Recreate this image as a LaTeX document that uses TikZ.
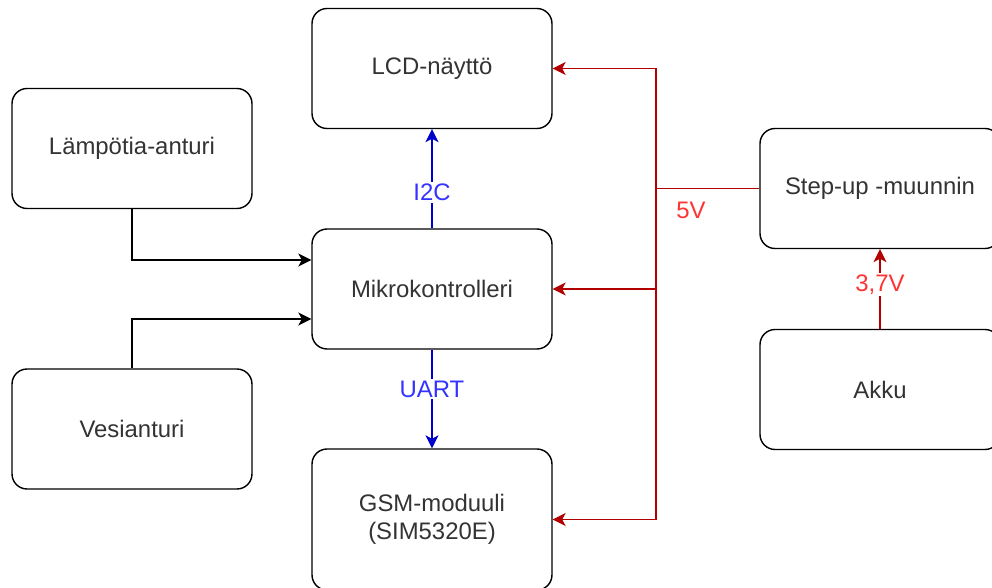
\documentclass[tikz,border=0pt]{standalone}
\usepackage{fontspec}
\setmainfont{Liberation Sans}
\usepackage{tikz}
\usetikzlibrary{arrows.meta,positioning,calc}
\definecolor{txt}{HTML}{333333}
\definecolor{pwrline}{HTML}{B20000}
\definecolor{pwrtxt}{HTML}{FF3333}
\definecolor{busline}{HTML}{0000CC}
\definecolor{bustxt}{HTML}{3333FF}

\begin{document}
\begin{tikzpicture}[x=0.02cm, y=-0.02cm,
    every node/.style={font=\fontsize{13.6}{16}\selectfont, text=txt},
    block/.style={draw, line width=0.8pt, rounded corners=0.3cm, minimum width=4.8cm, minimum height=2.4cm, align=center},
    sig/.style={line width=0.8pt, -{Stealth[length=0.26cm, width=0.26cm, inset=0.07cm]}},
    bus/.style={sig, draw=busline},
    pwr/.style={sig, draw=pwrline, line width=0.7pt},
    buslbl/.style={fill=white, text=bustxt, inner sep=1pt},
    pwrlbl/.style={fill=white, text=pwrtxt, inner sep=1pt}]
  \useasboundingbox (0,0) rectangle (992,588);

  \node[block] (lcd) at (432,68.5) {LCD-näyttö};
  \node[block] (temp) at (132,148.5) {Lämpötia-anturi};
  \node[block] (mcu) at (432,289) {Mikrokontrolleri};
  \node[block] (water) at (132,429) {Vesianturi};
  \node[block, minimum height=2.82cm] (gsm) at (432,519.5) {GSM-moduuli\\(SIM5320E)};
  \node[block] (stepup) at (880,188.5) {Step-up -muunnin};
  \node[block] (akku) at (880,389.5) {Akku};

  \draw[sig] (temp.south) |- ([yshift=0.58cm]mcu.west);
  \draw[sig] (water.north) |- ([yshift=-0.6cm]mcu.west);

  \draw[bus] (mcu.north) -- node[buslbl, pos=0.36] {I2C} (lcd.south);
  \draw[bus] (mcu.south) -- node[buslbl, pos=0.4] {UART} (gsm.north);

  % Power
  \coordinate (split) at (656,188.5);
  \draw[pwrline, line width=0.7pt] (stepup.west) -- (split);
  \draw[pwr] (split) |- (lcd.east);
  \draw[pwr] (split) |- (mcu.east);
  \draw[pwr] (split) |- (gsm.east);
  \node[pwrlbl] (v5) at (691,210) {5V};
  \draw[pwr] (akku.north) -- node[pwrlbl, pos=0.56] {3,7V} (stepup.south);
\end{tikzpicture}
\end{document}
